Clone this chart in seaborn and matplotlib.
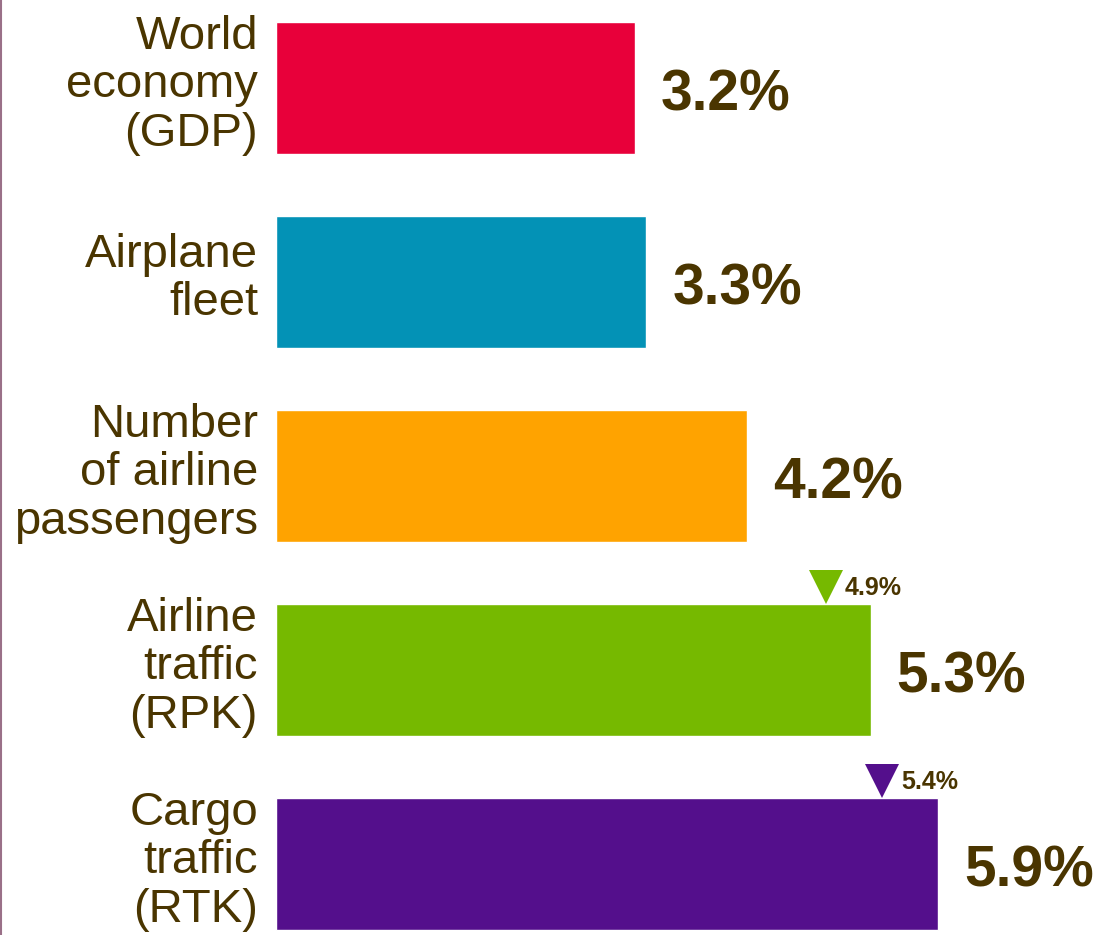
import matplotlib
matplotlib.use("Agg")
import matplotlib.pyplot as plt
import seaborn as sns
import pandas as pd

# growth rates, per year
categories = ["World\neconomy\n(GDP)", "Airplane\nfleet",
              "Number\nof airline\npassengers", "Airline\ntraffic\n(RPK)",
              "Cargo\ntraffic\n(RTK)"]
values = [3.2, 3.3, 4.2, 5.3, 5.9]
value_labels = ["3.2%", "3.3%", "4.2%", "5.3%", "5.9%"]
# previous forecast markers (row index, value, label)
marker_rows = [3, 4]
marker_values = [4.9, 5.4]
marker_labels = ["4.9%", "5.4%"]

colors = ["#e8003a", "#0392b6", "#ffa300", "#76b900", "#540f8c"]
text_color = "#4a3500"

df = pd.DataFrame({"category": categories, "value": values})

sns.set_style("white")
plt.rcParams['font.family'] = ['Liberation Sans', 'DejaVu Sans']

fig = plt.figure(figsize=(11.1, 9.35), dpi=100)
ax = fig.add_axes([276 / 1110, 0, 1 - 276 / 1110, 1])

sns.barplot(data=df, y="category", x="value", hue="category",
            palette=colors, orient="h", width=0.68, legend=False, ax=ax,
            saturation=1)

px = 112.2  # pixels per percentage point
ax.set_xlim(0, (1110 - 276) / px)
ax.set_ylim(4.366, -0.454)
ax.axis("off")

# category labels on the left
for i, lab in enumerate(categories):
    ax.text(-18 / px, i - 0.015, lab, ha="right", va="center",
            fontsize=34, color=text_color, linespacing=1.13,
            clip_on=False)

# value labels
for i, (v, lab) in enumerate(zip(values, value_labels)):
    ax.text(v + 26 / px, i + 0.04, lab, ha="left", va="center",
            fontsize=41, fontweight="bold", color=text_color)

# previous-forecast triangles
for r, v, lab in zip(marker_rows, marker_values, marker_labels):
    ytip = r - 0.34
    ax.plot(v, ytip - 17 / 194, marker="v", markersize=25,
            color=colors[r], markeredgewidth=0, clip_on=False)
    ax.text(v + 19 / px, ytip - 16 / 194, lab, ha="left", va="center",
            fontsize=18, fontweight="bold", color=text_color)

# thin edge line on the left
fig.add_artist(plt.Line2D([0.001, 0.001], [0, 1], color="#9a7088",
                          linewidth=1.5, transform=fig.transFigure))

fig.savefig("out.png", dpi=100)
